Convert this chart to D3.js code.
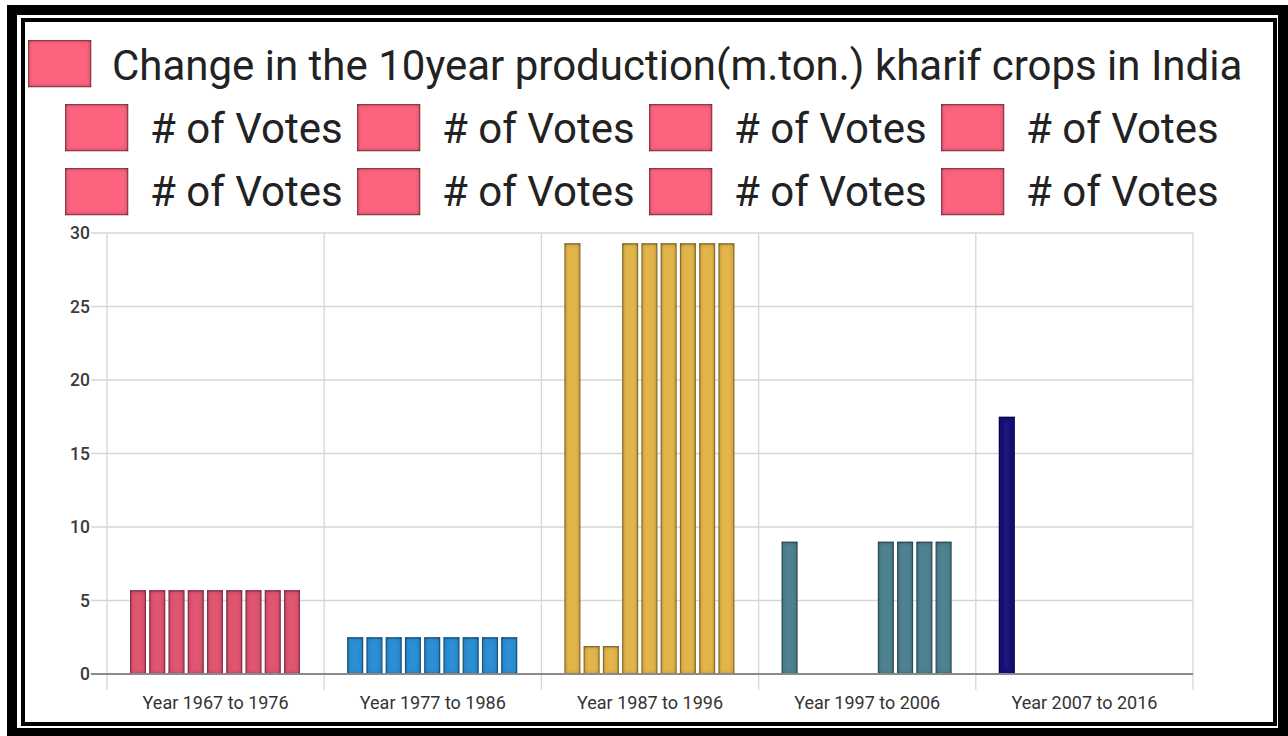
<!DOCTYPE html>
<html>
<head>
<meta charset="utf-8">
<script src="https://cdn.jsdelivr.net/npm/d3@7"></script>
<style>
  html, body { margin: 0; padding: 0; background: #fff; }
  svg { display: block; font-family: Roboto, "Noto Sans", sans-serif; }
</style>
</head>
<body>
<svg id="chart" width="1288" height="736"></svg>
<script>
// data
let categories = ["Year 1967 to 1976", "Year 1977 to 1986", "Year 1987 to 1996", "Year 1997 to 2006", "Year 2007 to 2016"];
let seriesNames = ["Change in the 10year production(m.ton.) kharif crops in India",
  "# of Votes", "# of Votes", "# of Votes", "# of Votes",
  "# of Votes", "# of Votes", "# of Votes", "# of Votes"];
let series1 = [5.7, 2.5, 29.3, 9.0, 17.5],
    series2 = [5.7, 2.5, 1.9, 0, 0],
    series3 = [5.7, 2.5, 1.9, 0, 0],
    series4 = [5.7, 2.5, 29.3, 0, 0],
    series5 = [5.7, 2.5, 29.3, 0, 0],
    series6 = [5.7, 2.5, 29.3, 9.0, 0],
    series7 = [5.7, 2.5, 29.3, 9.0, 0],
    series8 = [5.7, 2.5, 29.3, 9.0, 0],
    series9 = [5.7, 2.5, 29.3, 9.0, 0];
let allSeries = [series1, series2, series3, series4, series5, series6, series7, series8, series9];
let yTicks = [0, 5, 10, 15, 20, 25, 30];
let categoryColors = ["#e0546f", "#2f8ed4", "#e2b54b", "#4f8291", "#1d1878"];
let legendColor = "#fb647f";

let svg = d3.select("#chart"),
    width = +svg.attr("width"),
    height = +svg.attr("height");

// inset shadow used on bars and legend swatches
let defs = svg.append("defs");
let f = defs.append("filter").attr("id", "inset")
    .attr("x", "-20%").attr("y", "-20%").attr("width", "140%").attr("height", "140%");
f.append("feFlood").attr("flood-color", "#000").attr("flood-opacity", 0.9).attr("result", "c");
f.append("feComposite").attr("in", "c").attr("in2", "SourceAlpha").attr("operator", "out").attr("result", "inv");
f.append("feGaussianBlur").attr("in", "inv").attr("stdDeviation", 2).attr("result", "blur");
f.append("feComposite").attr("in", "blur").attr("in2", "SourceAlpha").attr("operator", "in").attr("result", "shadow");
let fm = f.append("feMerge");
fm.append("feMergeNode").attr("in", "SourceGraphic");
fm.append("feMergeNode").attr("in", "shadow");

// frame
svg.append("rect").attr("x", 12).attr("y", 10).attr("width", 1271).attr("height", 723)
    .attr("fill", "none").attr("stroke", "#000").attr("stroke-width", 10);
svg.append("rect").attr("x", 23).attr("y", 20).attr("width", 1252).attr("height", 704)
    .attr("fill", "#fff").attr("stroke", "#000").attr("stroke-width", 4);

// scales
let x0 = d3.scaleBand().domain(categories).range([107, 1193]).padding(0);
let x1 = d3.scaleBand().domain(d3.range(allSeries.length)).range([23, 193]).paddingInner(0.17);
let y = d3.scaleLinear().domain([0, 30]).range([674, 233]);

// horizontal grid
svg.append("g")
  .selectAll("line").data(yTicks.slice(1)).enter().append("line")
    .attr("x1", 91).attr("x2", 1193)
    .attr("y1", d => y(d)).attr("y2", d => y(d))
    .attr("stroke", "#d6d6d6").attr("stroke-width", 1.3);

// vertical grid at category boundaries
let bounds = categories.map(c => x0(c)).concat([x0.range()[1]]);
svg.append("g")
  .selectAll("line").data(bounds).enter().append("line")
    .attr("x1", d => d).attr("x2", d => d)
    .attr("y1", 233).attr("y2", 690)
    .attr("stroke", "#d6d6d6").attr("stroke-width", 1.3);

// y axis labels
let yAxis = d3.axisLeft(y).tickValues(yTicks).tickSize(0).tickPadding(17);
let yg = svg.append("g").attr("transform", "translate(107,0)").call(yAxis);
yg.select(".domain").remove();
yg.selectAll("text").attr("font-size", 17.5).attr("font-weight", 500)
    .attr("fill", "#3a3a3a").attr("font-family", "Roboto, sans-serif");

// bars
let groups = svg.append("g").selectAll("g").data(categories).enter().append("g")
    .attr("transform", d => "translate(" + x0(d) + ",0)");
groups.selectAll("rect")
  .data((c, ci) => allSeries.map((s, si) => ({ si: si, ci: ci, v: s[ci] })).filter(d => d.v > 0))
  .enter().append("rect")
    .attr("x", d => x1(d.si) + 0.6)
    .attr("width", x1.bandwidth() - 1.2)
    .attr("y", d => y(d.v) + 0.6)
    .attr("height", d => y(0) - y(d.v) - 0.6)
    .attr("fill", d => categoryColors[d.ci])
    .attr("stroke", d => d3.color(categoryColors[d.ci]).darker(0.9))
    .attr("stroke-width", 1.2)
    .attr("filter", "url(#inset)");

// baseline
svg.append("line").attr("x1", 91).attr("x2", 1193).attr("y1", y(0)).attr("y2", y(0))
    .attr("stroke", "#8a8a8a").attr("stroke-width", 2);

// x axis labels
let xAxis = d3.axisBottom(x0).tickSize(0).tickPadding(22);
let xg = svg.append("g").attr("transform", "translate(0," + y(0) + ")").call(xAxis);
xg.select(".domain").remove();
xg.selectAll("text").attr("font-size", 18).attr("fill", "#333")
    .attr("font-family", "Roboto, sans-serif");

// legend
let legendItems = seriesNames.map((name, i) => {
  if (i === 0) return { name: name, sx: 28, sy: 40, tx: 112, ty: 80 };
  let row = Math.floor((i - 1) / 4), col = (i - 1) % 4;
  return { name: name, sx: 65 + col * 292, sy: 104 + row * 64, tx: 150 + col * 292, ty: 143 + row * 63 };
});
let lg = svg.append("g").selectAll("g").data(legendItems).enter().append("g");
lg.append("rect")
    .attr("x", d => d.sx + 0.6).attr("y", d => d.sy + 0.6)
    .attr("width", 62).attr("height", 46)
    .attr("fill", legendColor)
    .attr("stroke", d3.color(legendColor).darker(0.9)).attr("stroke-width", 1.2)
    .attr("filter", "url(#inset)");
lg.append("text")
    .attr("x", d => d.tx).attr("y", d => d.ty)
    .attr("font-size", 42).attr("fill", "#222")
    .text(d => d.name);
</script>
</body>
</html>
